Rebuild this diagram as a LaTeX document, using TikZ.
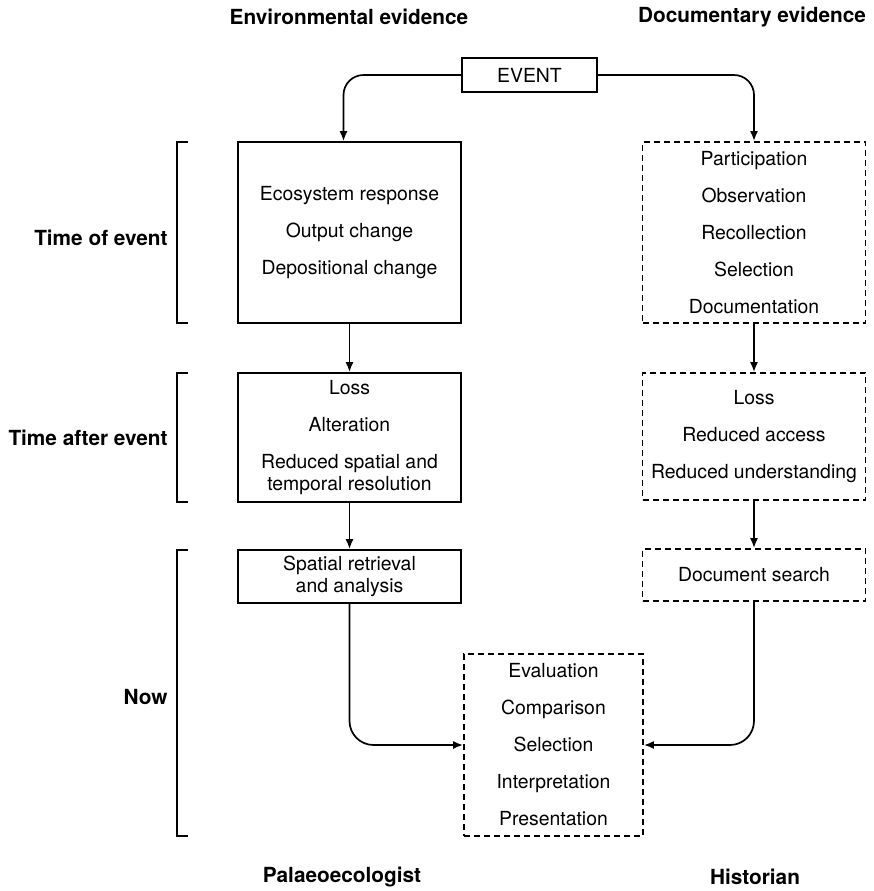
\documentclass[tikz,border=0pt]{standalone}
\usepackage{fontspec}
\setmainfont{TeX Gyre Heros}
\usepackage{tikz}
\usetikzlibrary{arrows.meta}
\newcommand{\bodyfont}{\fontsize{9.7}{11}\selectfont}
\newcommand{\headfont}{\fontsize{10.4}{12}\selectfont\bfseries}
\tikzset{
  % Solid box (environmental side)
  ebox/.style={rectangle,draw,line width=0.9pt,
    minimum width=111.5pt,inner sep=0pt,
    align=center,font=\bodyfont},
  % Dashed box (documentary side)
  dbox/.style={rectangle,draw,line width=0.9pt,
    dash pattern=on 3pt off 2pt,
    minimum width=111.5pt,inner sep=0pt,
    align=center,font=\bodyfont},
  % Arrows
  arr/.style={-{Latex[length=5pt,width=4pt]},line width=0.85pt},
  % Time brackets
  brk/.style={line width=0.6pt},
  head/.style={font=\headfont},
}

\begin{document}
\begin{tikzpicture}[x=0.5pt,y=-0.5pt]
  \useasboundingbox (0,0) rectangle (874,891);
  \def\gap{7.5pt}

  % Column headings
  \node[head] (envhead) at (349,17) {Environmental evidence};
  \node[head] (dochead) at (752,17) {Documentary evidence};

  % Event
  \node[ebox,minimum width=67.5pt,minimum height=17pt] (event) at (529.5,75) {EVENT};

  % Palaeoecologist column
  \node[ebox,minimum height=90.5pt] (env1) at (349.5,232.5)
    {Ecosystem response\\[\gap]Output change\\[\gap]Depositional change};
  \node[ebox,minimum height=64.5pt] (env2) at (349.5,437.5)
    {Loss\\[\gap]Alteration\\[\gap]Reduced spatial and\\temporal resolution};
  \node[ebox,minimum height=26.5pt] (env3) at (349.5,576.5)
    {Spatial retrieval\\and analysis};

  % Historian column
  \node[dbox,minimum height=90.5pt] (doc1) at (754,232.5)
    {Participation\\[\gap]Observation\\[\gap]Recollection\\[\gap]Selection\\[\gap]Documentation};
  \node[dbox,minimum height=63.5pt] (doc2) at (754,436.5)
    {Loss\\[\gap]Reduced access\\[\gap]Reduced understanding};
  \node[dbox,minimum height=26pt] (doc3) at (754,575)
    {Document search};

  % Common end
  \node[dbox,minimum width=89.5pt,minimum height=91pt] (synth) at (553.5,745)
    {Evaluation\\[\gap]Comparison\\[\gap]Selection\\[\gap]Interpretation\\[\gap]Presentation};

  % Connectors
  \draw[arr,rounded corners=10pt] (event.west) -| ([xshift=-3pt]env1.north);
  \draw[arr,rounded corners=10pt] (event.east) -| (doc1.north);
  \draw[arr] (env1) -- (env2);
  \draw[arr] (env2) -- (env3);
  \draw[arr] (doc1) -- (doc2);
  \draw[arr] (doc2) -- (doc3);
  \draw[arr,rounded corners=12pt] (env3.south) |- (synth.west);
  \draw[arr,rounded corners=12pt] (doc3.south) |- (synth.east);

  % Time brackets
  \draw[brk] (188,142) -- (177,142) -- (177,323) -- (188,323);
  \draw[brk] (188,373) -- (177,373) -- (177,502) -- (188,502);
  \draw[brk] (188,550) -- (177,550) -- (177,836) -- (188,836);
  \node[head,anchor=east,inner sep=0pt] (tevent) at (168,238) {Time of event};
  \node[head,anchor=east,inner sep=0pt] (tafter) at (168,438) {Time after event};
  \node[head,anchor=east,inner sep=0pt] (tnow) at (168,697) {Now};

  % Who
  \node[head] (palaeo) at (342,877) {Palaeoecologist};
  \node[head] (hist) at (755,877) {Historian};
\end{tikzpicture}
\end{document}
